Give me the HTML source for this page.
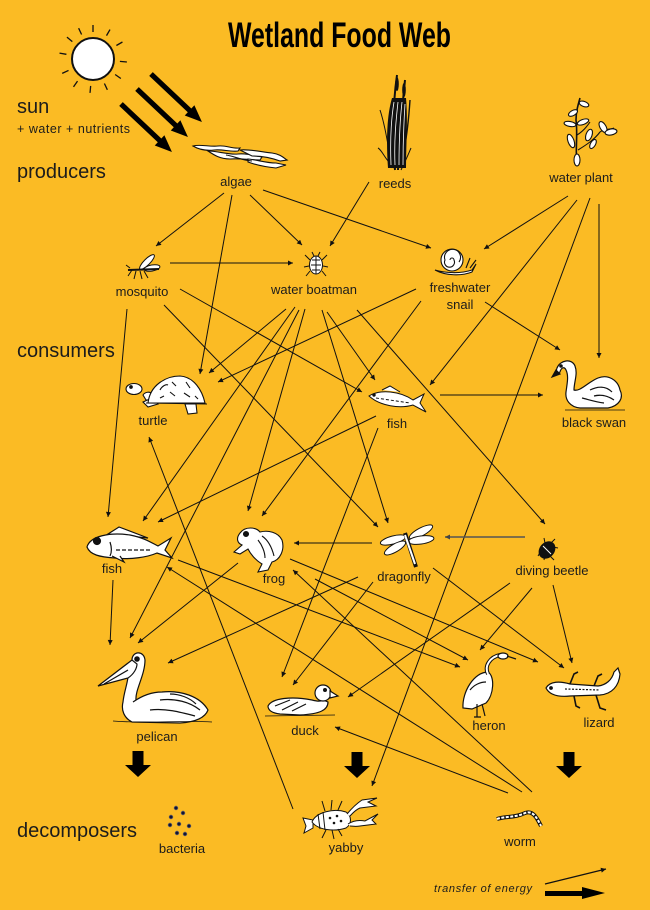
<!DOCTYPE html>
<html><head><meta charset="utf-8"><style>
html,body{margin:0;padding:0;background:#fbbb24;}
svg{display:block;}
text{font-family:"Liberation Sans",sans-serif;fill:#1c1c1c;}
</style></head><body>
<svg width="650" height="910" viewBox="0 0 650 910" xmlns="http://www.w3.org/2000/svg">
<defs>
<marker id="a" viewBox="0 0 10 10" refX="10" refY="5" markerWidth="7" markerHeight="5" markerUnits="userSpaceOnUse" orient="auto"><path d="M0,0 L10,5 L0,10 z" fill="#111"/></marker>
<marker id="g" viewBox="0 0 10 10" refX="10" refY="5" markerWidth="7" markerHeight="5" markerUnits="userSpaceOnUse" orient="auto"><path d="M0,0 L10,5 L0,10 z" fill="#444"/></marker>
<path id="ray" d="M0,-2.6 L53,-2.6 L53,-7 L70,0 L53,7 L53,2.6 L0,2.6 Z" fill="#000"/>
<path id="down" d="M-5.5,0 L5.5,0 L5.5,14 L13,14 L0,26 L-13,14 L-5.5,14 Z" fill="#000"/>
</defs>
<rect width="650" height="910" fill="#fbbb24"/>

<text x="228" y="47" font-size="35" font-weight="bold" textLength="223" lengthAdjust="spacingAndGlyphs" style="fill:#000">Wetland Food Web</text>

<g stroke="#111" stroke-width="1.3">
<circle cx="93" cy="59" r="21" fill="#fff" stroke-width="2"/>
<g transform="translate(93,59)">
<line x1="0" y1="-27" x2="0" y2="-34"/>
<line x1="0" y1="-27" x2="0" y2="-34" transform="rotate(30)"/>
<line x1="0" y1="-27" x2="0" y2="-34" transform="rotate(60)"/>
<line x1="0" y1="-27" x2="0" y2="-34" transform="rotate(95)"/>
<line x1="0" y1="-27" x2="0" y2="-34" transform="rotate(125)"/>
<line x1="0" y1="-27" x2="0" y2="-34" transform="rotate(155)"/>
<line x1="0" y1="-27" x2="0" y2="-34" transform="rotate(185)"/>
<line x1="0" y1="-27" x2="0" y2="-34" transform="rotate(215)"/>
<line x1="0" y1="-27" x2="0" y2="-34" transform="rotate(245)"/>
<line x1="0" y1="-27" x2="0" y2="-34" transform="rotate(280)"/>
<line x1="0" y1="-27" x2="0" y2="-34" transform="rotate(310)"/>
<line x1="0" y1="-27" x2="0" y2="-34" transform="rotate(335)"/>
</g></g>
<use href="#ray" transform="translate(151,74) rotate(43.3)"/>
<use href="#ray" transform="translate(137,89) rotate(43.3)"/>
<use href="#ray" transform="translate(121,104) rotate(43.3)"/>

<text x="17" y="113" font-size="20">sun</text>
<text x="17" y="133" font-size="12.5" textLength="113">+ water + nutrients</text>
<text x="17" y="178" font-size="20">producers</text>
<text x="17" y="357" font-size="20">consumers</text>
<text x="17" y="837" font-size="20">decomposers</text>

<g stroke="#111" stroke-width="1" fill="none" marker-end="url(#a)">
<line x1="224" y1="193" x2="156" y2="246"/>
<line x1="232" y1="195" x2="200" y2="374"/>
<line x1="250" y1="195" x2="302" y2="245"/>
<line x1="263" y1="190" x2="431" y2="248"/>
<line x1="369" y1="182" x2="330" y2="246"/>
<line x1="568" y1="196" x2="484" y2="249"/>
<line x1="577" y1="200" x2="430" y2="385"/>
<line x1="590" y1="198" x2="372" y2="786"/>
<line x1="599" y1="204" x2="599" y2="358"/>
<line x1="170" y1="263" x2="293" y2="263"/>
<line x1="127" y1="309" x2="108" y2="517"/>
<line x1="180" y1="289" x2="362" y2="392"/>
<line x1="164" y1="305" x2="378" y2="527"/>
<line x1="286" y1="309" x2="209" y2="373"/>
<line x1="295" y1="307" x2="143" y2="521"/>
<line x1="299" y1="310" x2="130" y2="638"/>
<line x1="305" y1="309" x2="248" y2="511"/>
<line x1="327" y1="312" x2="375" y2="380"/>
<line x1="322" y1="310" x2="388" y2="523"/>
<line x1="357" y1="310" x2="545" y2="524"/>
<line x1="416" y1="289" x2="218" y2="382"/>
<line x1="421" y1="301" x2="262" y2="516"/>
<line x1="485" y1="302" x2="560" y2="350"/>
<line x1="440" y1="395" x2="543" y2="395"/>
<line x1="376" y1="416" x2="158" y2="522"/>
<line x1="378" y1="428" x2="282" y2="677"/>
<line x1="113" y1="580" x2="110" y2="645"/>
<line x1="178" y1="560" x2="460" y2="667"/>
<line x1="238" y1="563" x2="138" y2="643"/>
<line x1="315" y1="579" x2="468" y2="660"/>
<line x1="290" y1="559" x2="538" y2="662"/>
<line x1="372" y1="543" x2="294" y2="543"/>
<line x1="358" y1="577" x2="168" y2="663"/>
<line x1="373" y1="582" x2="293" y2="685"/>
<line x1="433" y1="568" x2="564" y2="668"/>
<line x1="510" y1="583" x2="348" y2="697"/>
<line x1="532" y1="588" x2="480" y2="650"/>
<line x1="553" y1="585" x2="572" y2="663"/>
<line x1="508" y1="793" x2="335" y2="727"/>
<line x1="522" y1="792" x2="167" y2="567"/>
<line x1="532" y1="792" x2="293" y2="570"/>
<line x1="293" y1="809" x2="149" y2="437"/>
<line x1="525" y1="537" x2="445" y2="537" stroke="#555" stroke-width="1.4" marker-end="url(#g)"/>
</g>

<g fill="#fff" stroke="#111" stroke-width="1.1">
<path d="M193,146 C200,144 210,147 218,146 C226,145 232,149 240,148 L238,151 C230,152 222,149 214,150 C205,151 198,149 193,146 Z"/>
<path d="M208,151 C218,151 228,155 238,154 C248,153 255,156 262,157 L260,160 C250,160 240,158 230,159 C220,159 214,155 208,151 Z"/>
<path d="M240,150 C250,149 262,152 272,153 C280,154 284,158 287,160 L280,161 C272,158 262,156 252,156 Z"/>
<path d="M248,159 C258,160 266,163 276,163 L286,165 L276,168 C266,167 256,165 248,162 Z"/>
<path d="M226,155 C234,156 240,160 252,161" fill="none"/>
</g>

<g stroke="#111" fill="none">
<path d="M395,170 C393,140 392,110 397,75" stroke-width="2"/>
<path d="M398,170 C399,140 402,110 405,80" stroke-width="2"/>
<path d="M392,168 C388,145 385,125 380,110" stroke-width="1"/>
<path d="M400,168 C405,150 408,130 410,100" stroke-width="1.4"/>
<path d="M394,168 C384,158 382,150 378,148" stroke-width="1"/>
<path d="M401,170 C406,160 408,155 411,148" stroke-width="1"/>
</g>
<path d="M388,168 C386,140 387,115 392,98 L406,98 C408,120 406,145 406,168 Z" fill="#111"/>
<g stroke="#fff" stroke-width="0.8" fill="none">
<path d="M391,165 C390,140 391,120 394,102"/>
<path d="M395,165 C394,140 396,120 398,102"/>
<path d="M399,165 C399,140 400,120 402,102"/>
<path d="M403,165 C403,140 404,120 405,104"/>
</g>
<ellipse cx="397" cy="84" rx="1.8" ry="7" fill="#111"/>
<ellipse cx="404" cy="90" rx="1.8" ry="7" fill="#111"/>

<g stroke="#111" stroke-width="1.1" fill="#fff">
<path d="M577,165 C575,150 578,135 576,120 C576,112 578,105 580,98" fill="none" stroke-width="1.6"/>
<path d="M578,150 C586,145 594,140 600,132 C605,128 610,130 614,128" fill="none"/>
<path d="M577,135 C582,132 586,128 590,122" fill="none"/>
<ellipse cx="573" cy="113" rx="5" ry="2.5" transform="rotate(-30 573 113)"/>
<ellipse cx="584" cy="104" rx="5" ry="2.5" transform="rotate(20 584 104)"/>
<ellipse cx="570" cy="124" rx="6" ry="2.5" transform="rotate(10 570 124)"/>
<ellipse cx="583" cy="122" rx="6" ry="2.5" transform="rotate(-20 583 122)"/>
<ellipse cx="571" cy="141" rx="3" ry="7" transform="rotate(-20 571 141)"/>
<ellipse cx="589" cy="135" rx="3" ry="6" transform="rotate(20 589 135)"/>
<ellipse cx="603" cy="127" rx="3" ry="6" transform="rotate(-30 603 127)"/>
<ellipse cx="611" cy="132" rx="6" ry="3" transform="rotate(-10 611 132)"/>
<ellipse cx="593" cy="144" rx="2.5" ry="5" transform="rotate(30 593 144)"/>
<ellipse cx="577" cy="160" rx="3" ry="6"/>
</g>

<g stroke="#111" stroke-width="1" fill="#fff">
<ellipse cx="147" cy="262" rx="10" ry="3" transform="rotate(-45 147 262)"/>
<ellipse cx="152" cy="268" rx="8" ry="3" transform="rotate(-10 152 268)"/>
<path d="M128,270 L159,269" stroke-width="2"/>
<path d="M132,270 L128,276 M136,271 L134,279 M140,271 L142,279 M144,271 L148,278 M130,268 L126,265" fill="none"/>
</g>

<g stroke="#111" stroke-width="1" fill="#fff">
<ellipse cx="316" cy="265" rx="6.5" ry="9"/>
<path d="M316,256 L316,274 M312,260 L320,260 M311,265 L321,265 M312,270 L320,270" fill="none"/>
<path d="M310,260 L305,255 M322,260 L327,255 M309,266 L304,267 M323,266 L328,267 M310,271 L306,276 M322,271 L326,276 M314,256 L312,252 M318,256 L320,252" fill="none"/>
</g>

<g stroke="#111" stroke-width="1.1" fill="#fff">
<path d="M435,270 C445,273 460,274 472,270 L476,264 L472,272 C462,276 446,276 435,270 Z"/>
<circle cx="452" cy="260" r="11"/>
<path d="M452,260 m-2,0 a2,2 0 1,1 4,0 a5,5 0 1,1 -9,0 a8,8 0 1,1 14,2" fill="none"/>
<path d="M466,268 L470,258 M470,268 L476,260" fill="none"/>
</g>

<g stroke="#111" stroke-width="1.1" fill="#fff">
<path d="M143,395 C145,392 150,391 152,394 L158,400 L146,400 Z"/>
<ellipse cx="134" cy="389" rx="8" ry="5.5"/>
<path d="M143,402 L152,398 L158,404 L148,407 Z"/>
<path d="M185,404 L196,404 L197,413 L188,414 Z"/>
<path d="M148,403 C150,385 166,376 180,376 C194,377 202,390 205,403 Z"/>
<path d="M146,403 L207,404" fill="none"/>
<path d="M160,390 C162,386 166,384 168,385 M172,382 L176,386 M186,382 L190,388 M170,392 L175,396 M184,393 L190,397 M160,398 L164,396 M195,396 L198,399" fill="none"/>
<circle cx="131" cy="387" r="1.3" fill="#111"/>
</g>

<g stroke="#111" stroke-width="1" fill="#fff">
<path d="M369,396 C380,389 400,391 413,400 L424,394 L420,403 L426,412 L413,405 C400,409 380,406 369,396 Z"/>
<path d="M382,390 L390,386 L400,392"/>
<path d="M376,398 L410,403" fill="none" stroke-dasharray="3,2"/>
<circle cx="374" cy="395" r="1.2" fill="#111"/>
</g>

<g stroke="#111" stroke-width="1.2" fill="#fff">
<path d="M557,368 C560,360 572,358 575,366 C578,374 574,382 574,390 C580,392 588,382 598,378 C608,374 618,380 620,390 C624,398 619,406 608,408 L580,408 C570,407 565,400 566,392 C567,384 569,376 566,370 C564,366 561,368 560,372 L555,375 Z"/>
<path d="M552,377 L556,370 L560,374 Z" fill="#111"/>
<circle cx="561" cy="366" r="1.2" fill="#111"/>
<path d="M590,390 C598,386 606,386 612,392 M594,396 C602,394 608,396 614,400 M582,398 C590,400 596,402 604,403" fill="none"/>
<path d="M565,410 L625,410" fill="none" stroke-width="0.8"/>
</g>

<g stroke="#111" stroke-width="1.2" fill="#fff">
<path d="M108,534 L119,527 L148,538 Z"/>
<path d="M87,547 C90,536 110,532 130,535 C145,538 152,543 158,546 L171,538 L165,550 L172,558 L157,553 C148,557 130,560 115,558 C100,557 90,555 87,547 Z"/>
<path d="M116,550 L150,550" fill="none" stroke-dasharray="4,2"/>
<path d="M110,542 C112,548 112,552 110,556" fill="none"/>
<path d="M112,556 L124,562 L120,556"/>
<circle cx="97" cy="541" r="3.5" fill="#111"/>
</g>

<g stroke="#111" stroke-width="1.1" fill="#fff">
<path d="M240,533 C245,526 256,527 260,532 C268,530 278,532 282,540 C285,550 280,560 272,562 L268,570 L258,572 L262,564 C255,560 250,553 248,549 L240,554 L234,552 L242,545 C237,543 236,538 240,533 Z"/>
<path d="M262,536 C268,540 272,548 274,556 M258,540 C262,545 265,552 265,558" fill="none"/>
<circle cx="246" cy="534" r="2.5" fill="#111"/>
</g>

<g stroke="#111" stroke-width="1" fill="#fff">
<ellipse cx="393" cy="540" rx="13" ry="4" transform="rotate(-15 393 540)"/>
<ellipse cx="395" cy="548" rx="12" ry="4" transform="rotate(-30 395 548)"/>
<ellipse cx="421" cy="532" rx="13" ry="4" transform="rotate(-28 421 532)"/>
<ellipse cx="421" cy="540" rx="13" ry="4" transform="rotate(-8 421 540)"/>
<path d="M405,533 L416,567" stroke="#111" stroke-width="4" fill="none"/>
<path d="M405,535 L415,564" stroke="#fff" stroke-width="2" fill="none"/>
</g>

<g stroke="#111" stroke-width="1" fill="#111">
<ellipse cx="547" cy="550" rx="7" ry="9" transform="rotate(40 547 550)"/>
<path d="M543,546 L551,554" stroke="#fff" fill="none"/>
<path d="M541,551 L538,556 M545,555 L544,560 M550,556 L554,560 M553,547 L558,548 M551,543 L555,539 M545,543 L544,538" fill="none"/>
</g>

<g stroke="#111" stroke-width="1.2" fill="#fff">
<path d="M133,702 C143,695 152,692 162,692 C180,690 200,696 208,710 C205,718 196,722 180,723 L132,722 C124,718 121,710 123,702 C124,692 128,682 128,676 L132,660 C132,651 144,650 145,660 C145,675 135,690 136,700 Z"/>
<path d="M132,660 L98,686 L128,678 C134,674 137,668 137,664 Z"/>
<path d="M104,684 L128,670" fill="none"/>
<path d="M160,700 C175,698 190,702 200,710 M150,710 C165,708 180,712 195,716 M170,694 C180,694 190,698 196,704" fill="none"/>
<path d="M113,721 C150,724 180,720 212,722" fill="none" stroke-width="0.8"/>
<circle cx="137" cy="659" r="2.2" fill="#111"/>
</g>

<g stroke="#111" stroke-width="1.2" fill="#fff">
<path d="M268,706 C272,698 292,696 312,700 C316,701 320,702 323,700 L328,702 C328,710 320,714 300,715 L280,714 C272,713 268,710 268,706 Z"/>
<circle cx="323" cy="693" r="8"/>
<path d="M330,691 L338,696 L330,698 Z"/>
<path d="M275,706 L290,700 M282,710 L298,702 M292,711 L306,704" fill="none"/>
<path d="M265,716 L335,715" fill="none" stroke-width="0.8"/>
<circle cx="325" cy="690" r="1.4" fill="#111"/>
</g>

<g stroke="#111" stroke-width="1.2" fill="#fff">
<path d="M488,672 C495,676 494,695 486,703 L472,709 L463,708 C462,692 474,672 488,672 Z"/>
<path d="M488,674 C484,666 490,657 500,655" fill="none" stroke-width="4"/>
<path d="M488,674 C484,666 490,657 500,655" fill="none" stroke="#fff" stroke-width="2"/>
<ellipse cx="503" cy="656" rx="5" ry="3"/>
<path d="M507,656 L516,659" fill="none"/>
<path d="M477,704 L477,717 M482,704 L485,716 M474,717 L481,717" fill="none"/>
<path d="M470,690 C474,685 480,682 486,682" fill="none"/>
</g>

<g stroke="#111" stroke-width="1.2" fill="#fff">
<path d="M546,688 C550,681 560,681 570,684 L598,686 C606,685 612,680 614,672 L618,668 L620,674 C619,686 612,694 600,695 L570,696 C560,697 550,696 546,688 Z"/>
<path d="M570,684 L574,674 L578,672 M574,696 L576,706 L580,708 M594,686 L598,676 L602,674 M596,695 L600,708 L606,710" fill="none" stroke-width="1.6"/>
<path d="M565,689 L600,690" fill="none" stroke-dasharray="2,1.5"/>
<circle cx="551" cy="688" r="1.3" fill="#111"/>
</g>

<g fill="#14142e" stroke="#556" stroke-width="0.8">
<circle cx="176" cy="808" r="1.8"/>
<circle cx="183" cy="813" r="1.8"/>
<circle cx="171" cy="817" r="1.8"/>
<circle cx="179" cy="824" r="1.8"/>
<circle cx="189" cy="826" r="1.8"/>
<circle cx="170" cy="825" r="1.8"/>
<circle cx="177" cy="833" r="1.8"/>
<circle cx="185" cy="834" r="1.8"/>
</g>

<g stroke="#111" stroke-width="1" fill="#fff">
<path d="M303,818 L313,820 L313,828 L304,833 L306,826 Z"/>
<path d="M312,822 C316,812 334,808 346,812 C352,816 352,824 346,828 C334,832 318,830 312,822 Z"/>
<path d="M318,814 L320,829 M323,812 L325,830" fill="none"/>
<path d="M347,814 C352,808 356,804 362,800 L377,798 L368,802 L376,806 L360,808 C355,810 352,814 350,816"/>
<path d="M348,824 C354,820 360,820 365,821 L378,814 L372,820 L376,824 L360,826 C355,827 352,826 350,826"/>
<path d="M325,811 L322,801 M331,810 L332,800 M338,810 L342,801 M326,830 L322,838 M332,830 L334,839 M338,829 L342,836" fill="none"/>
<circle cx="330" cy="818" r="0.8" fill="#111"/><circle cx="337" cy="816" r="0.8" fill="#111"/><circle cx="334" cy="823" r="0.8" fill="#111"/><circle cx="341" cy="821" r="0.8" fill="#111"/>
</g>

<path d="M497,819 C505,816 515,818 525,813 C533,810 537,818 541,826" fill="none" stroke="#111" stroke-width="4"/>
<path d="M497,819 C505,816 515,818 525,813 C533,810 537,818 541,826" fill="none" stroke="#fff" stroke-width="2" stroke-dasharray="3,1.5"/>

<use href="#down" transform="translate(138,751)"/>
<use href="#down" transform="translate(357,752)"/>
<use href="#down" transform="translate(569,752)"/>

<g font-size="13" text-anchor="middle">
<text x="236" y="186">algae</text>
<text x="395" y="188">reeds</text>
<text x="581" y="182">water plant</text>
<text x="142" y="296">mosquito</text>
<text x="314" y="294">water boatman</text>
<text x="460" y="292">freshwater</text>
<text x="460" y="309">snail</text>
<text x="153" y="425">turtle</text>
<text x="397" y="428">fish</text>
<text x="594" y="427">black swan</text>
<text x="112" y="573">fish</text>
<text x="274" y="583">frog</text>
<text x="404" y="581">dragonfly</text>
<text x="552" y="575">diving beetle</text>
<text x="157" y="741">pelican</text>
<text x="305" y="735">duck</text>
<text x="489" y="730">heron</text>
<text x="599" y="727">lizard</text>
<text x="182" y="853">bacteria</text>
<text x="346" y="852">yabby</text>
<text x="520" y="846">worm</text>
</g>

<text x="434" y="892" font-size="11" font-style="italic" textLength="98">transfer of energy</text>
<line x1="545" y1="884" x2="606" y2="869" stroke="#111" stroke-width="1.2" marker-end="url(#a)"/>
<path d="M545,891 L582,891 L582,887 L605,893 L582,899 L582,896 L545,896 Z" fill="#000"/>
</svg>
</body></html>
